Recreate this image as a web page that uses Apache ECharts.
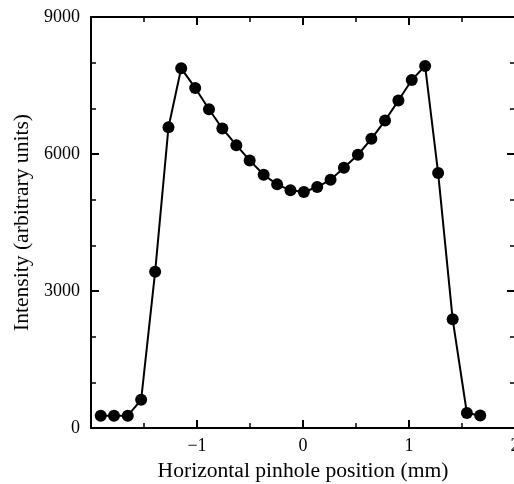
<!DOCTYPE html>
<html>
<head>
<meta charset="utf-8">
<script src="https://cdn.jsdelivr.net/npm/echarts@6/dist/echarts.min.js"></script>
<style>
html,body{margin:0;padding:0;background:#fff;overflow:hidden;}
#chart{width:514px;height:484px;}
</style>
</head>
<body>
<div id="chart"></div>
<script>
// Horizontal pinhole position (mm)
var positions = [-1.908, -1.783, -1.653, -1.527, -1.395, -1.269, -1.149, -1.017, -0.887, -0.761,
  -0.629, -0.503, -0.371, -0.244, -0.118, 0.008, 0.134, 0.26, 0.386, 0.518,
  0.645, 0.774, 0.9, 1.026, 1.152, 1.275, 1.412, 1.546, 1.672];
// Intensity (arbitrary units)
var intensities = [269, 269, 269, 618, 3420, 6587, 7876, 7447, 6980, 6559,
  6194, 5860, 5547, 5335, 5205, 5167, 5277, 5438, 5700, 5984,
  6333, 6733, 7170, 7622, 7928, 5582, 2380, 328, 275];
var yTicks = [0, 3000, 6000, 9000];
var xTicks = [-2, -1, 0, 1, 2];
var xLabelsShown = [-1, 0, 1, 2];

var FONT = 'Liberation Serif';
var data = positions.map(function (x, i) { return [x, intensities[i]]; });

function xAxisCfg(pos, showLabel) {
  return {
    type: 'value', position: pos, min: xTicks[0], max: xTicks[xTicks.length - 1], interval: 1,
    axisLine: { show: true, onZero: false, lineStyle: { color: '#000', width: 2 } },
    axisTick: { show: true, inside: true, length: 8, lineStyle: { color: '#000', width: 2 } },
    minorTick: { show: true, splitNumber: 2, length: 5, lineStyle: { color: '#000', width: 1.5 } },
    splitLine: { show: false },
    axisLabel: {
      show: showLabel, color: '#000', fontFamily: FONT, fontSize: 18, margin: 9,
      hideOverlap: false,
      formatter: function (v) {
        return xLabelsShown.indexOf(v) >= 0 ? String(v).replace('-', '\u2212') : '';
      }
    },
    name: showLabel ? 'Horizontal pinhole position (mm)' : '',
    nameLocation: 'middle', nameGap: 32,
    nameTextStyle: { color: '#000', fontFamily: FONT, fontSize: 21.6 }
  };
}
function yAxisCfg(pos, showLabel) {
  return {
    type: 'value', position: pos, min: yTicks[0], max: yTicks[yTicks.length - 1], interval: 3000,
    axisLine: { show: true, onZero: false, lineStyle: { color: '#000', width: 2 } },
    axisTick: { show: true, inside: true, length: 8, lineStyle: { color: '#000', width: 2 } },
    minorTick: { show: true, splitNumber: 3, length: 5, lineStyle: { color: '#000', width: 1.5 } },
    splitLine: { show: false },
    axisLabel: {
      show: showLabel, color: '#000', fontFamily: FONT, fontSize: 18, margin: 11,
      formatter: function (v) { return String(v); }
    },
    name: showLabel ? 'Intensity (arbitrary units)' : '',
    nameLocation: 'middle', nameGap: 52,
    nameTextStyle: { color: '#000', fontFamily: FONT, fontSize: 21.6 }
  };
}

var chart = echarts.init(document.getElementById('chart'), null, { renderer: 'canvas' });
chart.setOption({
  animation: false,
  backgroundColor: '#fff',
  grid: { left: 91, right: -1, top: 17, bottom: 56, outerBoundsMode: 'none', containLabel: false },
  xAxis: [xAxisCfg('bottom', true), xAxisCfg('top', false)],
  yAxis: [yAxisCfg('left', true), yAxisCfg('right', false)],
  series: [{
    type: 'line', xAxisIndex: 0, yAxisIndex: 0,
    data: data,
    symbol: 'circle', symbolSize: 12,
    itemStyle: { color: '#000' },
    lineStyle: { color: '#000', width: 2 },
    clip: false
  }]
});
</script>
</body>
</html>
